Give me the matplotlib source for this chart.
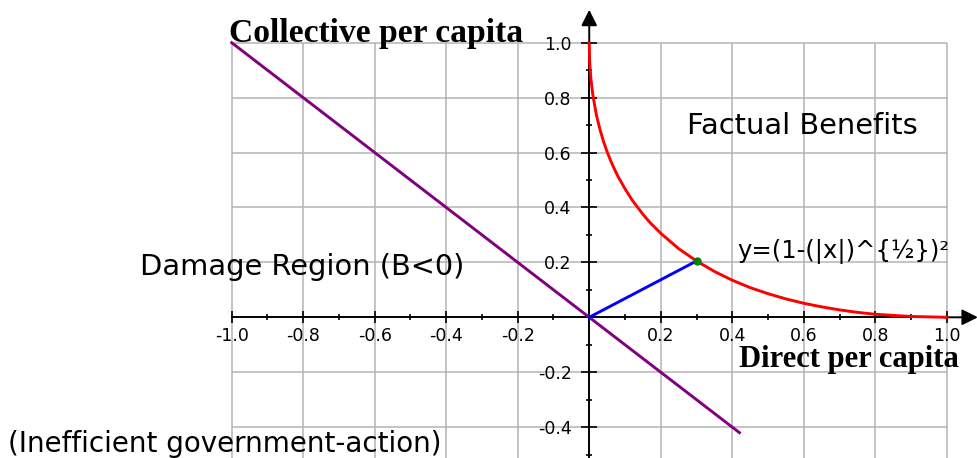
import matplotlib
matplotlib.use('Agg')
import matplotlib.pyplot as plt
from matplotlib.ticker import FixedLocator

# benefit frontier, y = (1 - sqrt|x|)^2
curve_x = [0.0, 0.001, 0.002, 0.005, 0.01, 0.02, 0.03, 0.04, 0.05, 0.06, 0.07, 0.08,
           0.1, 0.12, 0.15, 0.17, 0.2, 0.25, 0.3, 0.35, 0.4, 0.45, 0.5, 0.55, 0.6,
           0.65, 0.7, 0.75, 0.8, 0.9, 1.0]
curve_y = [1.0, 0.938, 0.913, 0.864, 0.81, 0.737, 0.684, 0.64, 0.603, 0.57, 0.541, 0.514,
           0.468, 0.427, 0.375, 0.345, 0.306, 0.25, 0.205, 0.167, 0.135, 0.108, 0.086,
           0.067, 0.051, 0.038, 0.027, 0.018, 0.011, 0.003, 0.0]

# damage line and the chosen point
damage_x = [-1.0, 0.42]
damage_y = [1.0, -0.42]
point_x = [0.0, 0.3]
point_y = [0.0, 0.205]

x_ticks = [-1.0, -0.8, -0.6, -0.4, -0.2, 0.2, 0.4, 0.6, 0.8, 1.0]
y_ticks = [-0.4, -0.2, 0.2, 0.4, 0.6, 0.8, 1.0]
x_minor = [-0.9, -0.7, -0.5, -0.3, -0.1, 0.1, 0.3, 0.5, 0.7, 0.9]
y_minor = [-0.5, -0.3, -0.1, 0.1, 0.3, 0.5, 0.7, 0.9]
x_grid = [-1.0, -0.8, -0.6, -0.4, -0.2, 0.0, 0.2, 0.4, 0.6, 0.8, 1.0]
y_grid = [-0.4, -0.2, 0.2, 0.4, 0.6, 0.8, 1.0]

fig = plt.figure(figsize=(9.78, 4.58), dpi=100)
ax = fig.add_axes([0, 0, 1, 1])
ax.set_xlim(-1.648, 1.0873)
ax.set_ylim(-0.5124, 1.1555)
ax.set_facecolor('white')

# grid
ax.vlines(x_grid, -0.52, 1.0, color='#b4b4b4', lw=1.1, zorder=1)
ax.hlines(y_grid, -1.0, 1.0, color='#b4b4b4', lw=1.1, zorder=1)

# axes through origin
for s in ['top', 'right']:
    ax.spines[s].set_color('none')
ax.spines['left'].set_position(('data', 0))
ax.spines['bottom'].set_position(('data', 0))
ax.spines['left'].set_bounds(-0.52, 1.0)
ax.spines['bottom'].set_bounds(-1.0, 1.0)
for s in ['left', 'bottom']:
    ax.spines[s].set_linewidth(1.4)
    ax.spines[s].set_zorder(3)

ax.xaxis.set_major_locator(FixedLocator(x_ticks))
ax.yaxis.set_major_locator(FixedLocator(y_ticks))
ax.xaxis.set_minor_locator(FixedLocator(x_minor))
ax.yaxis.set_minor_locator(FixedLocator(y_minor))
ax.set_xticklabels(['%.1f' % v for v in x_ticks])
ax.set_yticklabels(['%.1f' % v for v in y_ticks])
ax.tick_params(axis='x', which='major', direction='inout', length=8.6, width=1.2, pad=3, labelsize=12.5)
ax.tick_params(axis='y', which='major', direction='inout', length=11.5, width=1.2, pad=7, labelsize=12.5)
ax.tick_params(which='minor', direction='inout', length=5, width=1.2)

# arrow heads
ax.annotate('', xy=(0, 1.12), xytext=(0, 0.99),
            arrowprops=dict(arrowstyle='-|>', color='black', lw=1.4, mutation_scale=24,
                            shrinkA=0, shrinkB=0), zorder=4)
ax.annotate('', xy=(1.087, 0), xytext=(0.99, 0),
            arrowprops=dict(arrowstyle='-|>', color='black', lw=1.4, mutation_scale=24,
                            shrinkA=0, shrinkB=0), zorder=4)

ax.plot(damage_x, damage_y, color='#800080', lw=2.1, zorder=5)
ax.plot(curve_x, curve_y, color='#ff0000', lw=2.1, zorder=5)
ax.plot(point_x, point_y, color='#0000ff', lw=2.1, zorder=5)
ax.plot(point_x[-1:], point_y[-1:], 'o', color='#008000', ms=5, zorder=6)

# labels
ax.text(-1.008, 1.004, 'Collective per capita', family='Liberation Serif', weight='bold',
        fontsize=24.2, ha='left', va='baseline')
ax.text(0.42, -0.18, 'Direct per capita', family='Liberation Serif', weight='bold',
        fontsize=22, ha='left', va='baseline')
ax.text(0.273, 0.667, 'Factual Benefits', fontsize=20.8, ha='left', va='baseline')
ax.text(0.413, 0.216, 'y=(1-(|x|)^{½})²', fontsize=17.5, ha='left', va='baseline')
ax.text(-1.257, 0.154, 'Damage Region (B<0)', fontsize=20.8, ha='left', va='baseline')
ax.text(-1.625, -0.49, '(Inefficient government-action)', fontsize=20, ha='left', va='baseline')

fig.savefig('out.png', dpi=100, facecolor='white')
